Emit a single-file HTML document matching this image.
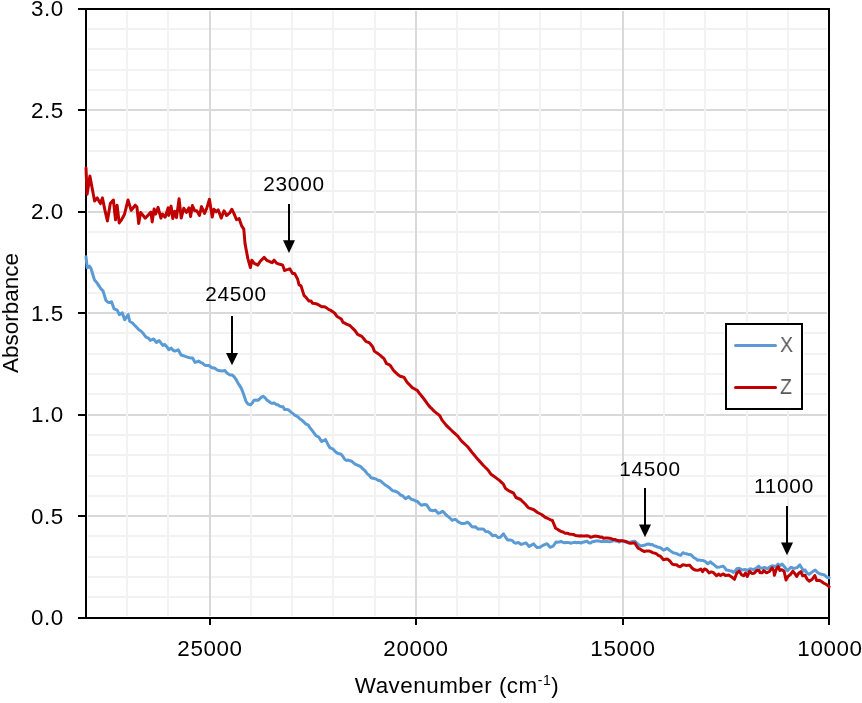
<!DOCTYPE html>
<html><head><meta charset="utf-8"><title>Absorbance spectrum</title>
<style>
html,body{margin:0;padding:0;background:#fff;}
body{width:862px;height:703px;position:relative;overflow:hidden;font-family:"Liberation Sans",sans-serif;color:#000;}
svg{position:absolute;left:0;top:0;}
.t{position:absolute;white-space:nowrap;line-height:26px;height:26px;will-change:transform;}
.ax{font-size:22.4px;letter-spacing:0.6px;margin-right:-0.6px;}
.an{font-size:20.8px;letter-spacing:0.75px;}
.lg{font-size:21.3px;color:#595959;transform:scaleX(0.92);transform-origin:left center;}
.xt{font-size:22.4px;letter-spacing:0.5px;}
.sup{font-size:14px;position:relative;top:-8px;}
.yt{font-size:22.5px;transform:translate(-50%,-50%) rotate(-90deg);transform-origin:center;}
</style></head><body>
<svg width="862" height="703" viewBox="0 0 862 703">
<g shape-rendering="crispEdges">
<rect x="88" y="109" width="739" height="2" fill="#d9d9d9"/>
<rect x="88" y="211" width="739" height="2" fill="#d9d9d9"/>
<rect x="88" y="312" width="739" height="2" fill="#d9d9d9"/>
<rect x="88" y="414" width="739" height="2" fill="#d9d9d9"/>
<rect x="88" y="515" width="739" height="2" fill="#d9d9d9"/>
<rect x="88" y="28" width="739" height="2" fill="#f2f2f2"/>
<rect x="88" y="48" width="739" height="2" fill="#f2f2f2"/>
<rect x="88" y="69" width="739" height="2" fill="#f2f2f2"/>
<rect x="88" y="89" width="739" height="2" fill="#f2f2f2"/>
<rect x="88" y="129" width="739" height="2" fill="#f2f2f2"/>
<rect x="88" y="150" width="739" height="2" fill="#f2f2f2"/>
<rect x="88" y="170" width="739" height="2" fill="#f2f2f2"/>
<rect x="88" y="190" width="739" height="2" fill="#f2f2f2"/>
<rect x="88" y="231" width="739" height="2" fill="#f2f2f2"/>
<rect x="88" y="251" width="739" height="2" fill="#f2f2f2"/>
<rect x="88" y="272" width="739" height="2" fill="#f2f2f2"/>
<rect x="88" y="292" width="739" height="2" fill="#f2f2f2"/>
<rect x="88" y="332" width="739" height="2" fill="#f2f2f2"/>
<rect x="88" y="353" width="739" height="2" fill="#f2f2f2"/>
<rect x="88" y="373" width="739" height="2" fill="#f2f2f2"/>
<rect x="88" y="393" width="739" height="2" fill="#f2f2f2"/>
<rect x="88" y="434" width="739" height="2" fill="#f2f2f2"/>
<rect x="88" y="454" width="739" height="2" fill="#f2f2f2"/>
<rect x="88" y="475" width="739" height="2" fill="#f2f2f2"/>
<rect x="88" y="495" width="739" height="2" fill="#f2f2f2"/>
<rect x="88" y="535" width="739" height="2" fill="#f2f2f2"/>
<rect x="88" y="556" width="739" height="2" fill="#f2f2f2"/>
<rect x="88" y="576" width="739" height="2" fill="#f2f2f2"/>
<rect x="88" y="596" width="739" height="2" fill="#f2f2f2"/>
<rect x="209" y="11" width="2" height="605" fill="#d9d9d9"/>
<rect x="415" y="11" width="2" height="605" fill="#d9d9d9"/>
<rect x="622" y="11" width="2" height="605" fill="#d9d9d9"/>
<rect x="126" y="11" width="2" height="605" fill="#f2f2f2"/>
<rect x="167" y="11" width="2" height="605" fill="#f2f2f2"/>
<rect x="250" y="11" width="2" height="605" fill="#f2f2f2"/>
<rect x="291" y="11" width="2" height="605" fill="#f2f2f2"/>
<rect x="332" y="11" width="2" height="605" fill="#f2f2f2"/>
<rect x="374" y="11" width="2" height="605" fill="#f2f2f2"/>
<rect x="456" y="11" width="2" height="605" fill="#f2f2f2"/>
<rect x="498" y="11" width="2" height="605" fill="#f2f2f2"/>
<rect x="539" y="11" width="2" height="605" fill="#f2f2f2"/>
<rect x="580" y="11" width="2" height="605" fill="#f2f2f2"/>
<rect x="663" y="11" width="2" height="605" fill="#f2f2f2"/>
<rect x="704" y="11" width="2" height="605" fill="#f2f2f2"/>
<rect x="746" y="11" width="2" height="605" fill="#f2f2f2"/>
<rect x="787" y="11" width="2" height="605" fill="#f2f2f2"/>
</g>
<g stroke="#000" stroke-width="2" shape-rendering="crispEdges" fill="none">
<rect x="86" y="9" width="743" height="609"/>
<line x1="78" y1="9" x2="86" y2="9"/>
<line x1="78" y1="110" x2="86" y2="110"/>
<line x1="78" y1="212" x2="86" y2="212"/>
<line x1="78" y1="313" x2="86" y2="313"/>
<line x1="78" y1="415" x2="86" y2="415"/>
<line x1="78" y1="516" x2="86" y2="516"/>
<line x1="78" y1="618" x2="86" y2="618"/>
<line x1="210" y1="618" x2="210" y2="625"/>
<line x1="416" y1="618" x2="416" y2="625"/>
<line x1="623" y1="618" x2="623" y2="625"/>
<line x1="829" y1="618" x2="829" y2="625"/>
</g>
<polyline points="86.0,256.8 87.2,267.8 89.4,266.2 91.1,268.7 92.8,274.5 94.5,280.0 96.7,282.4 98.8,285.6 100.9,288.8 103.0,290.9 105.9,300.3 107.7,302.0 109.4,302.6 111.6,301.7 114.1,308.9 117.2,310.2 119.3,314.7 122.3,312.9 124.7,319.8 126.4,317.1 128.1,314.6 129.8,321.5 132.2,322.8 134.6,325.2 136.8,327.6 138.9,329.8 141.2,331.2 143.5,333.8 146.2,337.4 148.3,338.0 150.3,340.3 152.0,339.7 153.7,339.0 156.5,342.5 158.9,340.6 160.9,342.8 162.8,345.5 164.5,344.4 166.7,346.6 168.8,349.7 171.3,348.1 173.0,350.2 174.7,351.1 176.4,350.6 178.2,349.8 181.1,355.0 183.4,355.7 185.8,356.6 187.5,357.2 189.3,357.6 191.0,358.1 192.6,358.0 195.1,362.4 196.8,361.9 198.5,361.0 200.5,362.3 202.5,363.1 204.5,365.0 206.7,365.6 208.8,365.5 211.3,367.3 213.1,368.0 214.8,368.1 216.9,369.8 219.0,370.7 220.7,370.7 222.4,370.9 225.0,370.6 226.9,373.0 228.9,374.3 230.6,375.1 232.3,375.0 234.2,376.9 236.1,379.5 237.8,382.7 239.5,385.4 241.2,388.1 242.9,392.2 246.0,401.3 248.0,404.1 250.6,404.8 252.3,402.9 254.0,400.3 256.1,400.1 258.3,400.3 259.9,398.6 261.5,397.1 263.1,396.3 265.0,397.7 266.8,400.0 268.5,401.1 270.2,402.5 271.9,403.3 274.5,403.0 276.2,404.5 277.9,404.8 279.6,406.1 281.3,406.7 283.0,406.8 284.7,409.6 286.4,409.6 288.2,409.7 289.9,411.2 291.6,412.6 293.3,413.9 295.0,415.4 296.7,416.0 298.4,417.4 300.0,419.0 302.0,420.3 304.0,422.2 306.0,424.1 308.0,424.9 309.9,427.7 311.9,430.1 313.9,432.8 315.9,435.5 318.9,437.2 321.5,441.5 323.5,440.7 325.5,439.6 327.7,443.9 329.9,447.8 332.9,448.9 335.8,452.1 337.5,453.1 339.1,453.8 340.8,454.0 342.8,456.3 344.8,459.5 346.6,460.4 348.3,460.1 350.1,460.8 351.8,461.3 354.8,464.0 356.8,464.8 358.7,465.6 360.7,466.6 362.4,468.5 364.0,469.8 365.7,471.6 367.4,473.9 369.0,474.9 370.7,477.3 372.7,478.3 374.7,478.6 376.4,479.1 378.0,480.4 379.7,480.6 381.6,481.8 383.6,483.6 385.6,485.3 387.6,486.4 389.3,487.7 390.9,489.1 392.6,490.7 394.6,491.0 396.6,491.8 398.6,493.0 400.6,495.1 402.6,495.7 405.6,498.8 408.5,496.6 411.5,499.5 413.5,499.8 415.5,501.0 417.5,501.5 419.5,503.7 421.5,505.3 423.2,504.7 424.8,504.6 426.5,504.7 429.5,509.2 430.0,510.0 432.8,510.8 435.3,510.1 438.1,513.3 440.3,512.7 442.5,511.2 444.6,513.2 446.7,515.5 448.6,516.9 450.4,518.5 452.3,520.3 454.1,519.5 455.8,519.5 457.9,521.6 459.9,522.7 461.6,523.5 463.4,523.4 465.5,523.2 467.6,522.2 469.7,524.0 471.8,526.7 473.5,527.0 475.2,526.7 478.0,529.0 479.9,528.9 481.7,529.1 483.6,529.3 485.7,531.6 488.5,531.8 490.6,533.5 492.6,535.8 495.4,535.2 498.2,537.6 500.3,537.2 503.5,533.8 505.6,537.2 507.7,540.1 510.7,540.1 512.3,540.6 514.0,542.5 515.6,543.2 518.4,542.5 521.2,544.4 522.8,543.9 524.5,543.3 526.1,543.1 529.1,546.5 531.4,545.1 533.7,543.9 535.5,546.1 537.2,547.5 540.0,547.2 541.8,546.0 543.5,545.2 545.2,544.5 547.0,543.7 550.1,547.3 553.1,546.1 556.0,542.1 557.6,542.2 559.3,542.1 560.9,541.5 562.6,542.2 564.4,542.8 566.1,542.5 567.8,542.6 569.6,542.8 571.3,543.2 573.0,542.6 574.8,542.2 576.8,542.8 578.9,542.3 580.9,543.0 582.9,542.2 585.0,541.7 587.0,541.3 588.8,542.7 590.5,543.1 592.2,541.8 594.0,541.6 595.7,540.9 597.4,540.9 599.2,541.1 600.9,541.5 602.6,541.5 604.4,541.4 606.1,541.4 607.9,541.6 609.6,541.7 611.8,541.3 614.0,540.6 615.7,540.9 617.5,541.2 619.2,542.1 621.8,540.4 623.5,541.2 625.3,541.9 627.0,542.1 629.0,542.3 630.9,541.9 632.8,541.4 634.8,541.2 636.6,542.8 638.3,544.5 640.1,545.7 642.2,545.7 644.4,545.3 646.6,544.3 648.8,543.9 650.5,544.7 652.3,544.6 654.0,545.7 655.7,546.1 657.5,547.1 659.2,547.3 661.4,548.4 663.5,550.2 665.2,549.5 667.0,548.2 669.2,550.0 671.4,551.6 673.1,552.7 674.9,553.1 676.6,553.7 678.6,554.7 680.6,555.4 682.9,552.7 684.6,553.4 686.4,553.8 688.4,554.4 690.4,554.4 692.1,555.7 693.9,557.7 695.6,558.5 697.4,560.2 699.1,559.9 700.9,560.4 703.2,560.6 705.5,561.6 707.8,563.8 710.4,561.7 712.0,563.4 713.6,564.3 715.4,566.0 717.1,567.3 720.0,566.9 722.9,566.1 724.6,567.5 726.4,570.1 728.1,570.3 729.9,570.7 731.6,571.0 733.4,572.4 735.1,571.1 736.8,568.7 739.2,568.2 742.1,570.0 745.0,569.5 747.9,570.5 750.2,568.8 753.1,569.6 756.0,568.4 758.7,566.1 760.0,567.8 762.3,568.2 764.6,567.4 767.0,568.7 769.3,567.4 772.1,565.8 774.8,566.5 776.5,565.8 778.1,564.1 780.0,565.6 782.1,564.0 784.6,567.0 787.4,570.7 789.0,569.2 790.6,567.4 792.5,567.8 794.3,568.4 797.1,567.6 799.9,564.9 801.8,568.1 803.6,571.2 805.0,569.9 807.3,573.4 809.2,574.3 812.0,572.1 813.6,570.8 815.2,570.1 818.0,572.8 819.6,573.7 821.3,574.2 824.0,574.7 826.8,577.2 829.1,577.8" fill="none" stroke="#5b9bd5" stroke-width="3" stroke-linejoin="round" stroke-linecap="round"/>
<polyline points="86.0,168.1 87.1,194.2 89.9,176.0 92.3,189.0 94.6,201.0 97.2,197.9 98.8,200.8 100.4,203.6 102.4,197.9 105.1,210.9 107.4,220.9 110.3,203.6 113.4,200.0 115.5,219.8 117.1,205.2 119.2,222.9 121.8,219.3 124.4,214.6 126.2,207.3 128.0,200.0 131.2,210.4 133.2,207.8 135.3,205.2 136.9,206.8 138.7,223.5 140.6,212.5 142.9,215.3 145.3,218.2 147.2,216.1 149.1,214.1 151.0,212.0 152.2,221.9 154.1,208.9 155.7,214.1 158.1,207.3 160.9,218.2 162.5,214.1 165.1,217.2 168.2,207.8 168.7,215.5 171.1,206.1 172.8,218.6 174.6,211.3 176.5,217.6 179.1,198.8 181.2,218.1 183.8,208.2 186.4,212.4 189.0,207.7 190.6,216.5 192.4,205.6 194.8,210.8 196.8,210.8 199.5,215.5 201.5,206.6 204.5,213.4 206.8,208.2 209.4,199.3 212.2,217.1 213.9,209.2 216.2,211.8 218.2,209.8 221.2,218.1 224.0,210.8 226.6,215.5 229.7,212.9 231.8,209.2 233.9,213.4 236.5,219.7 239.1,218.6 241.7,225.9 243.8,229.1 243.8,229.2 245.0,243.4 247.8,258.4 250.4,267.6 251.8,260.2 254.2,263.4 256.0,264.2 257.8,265.1 260.6,260.8 262.4,259.1 264.2,257.4 267.0,260.5 268.8,261.2 270.5,262.0 272.3,262.7 274.1,260.2 277.0,263.4 278.9,264.0 280.8,264.5 282.7,265.1 284.5,270.5 286.3,269.9 288.0,269.4 289.8,268.8 292.6,273.6 294.7,273.6 297.6,279.0 299.0,284.7 301.1,286.1 304.0,295.4 306.1,297.5 309.0,301.1 311.1,301.1 312.5,303.2 314.6,303.5 316.8,303.9 318.5,304.8 320.1,305.8 321.8,306.7 324.6,306.7 326.8,308.1 328.9,309.6 330.2,310.1 332.4,311.6 334.5,313.0 337.1,316.5 339.2,317.8 341.3,319.0 343.0,322.4 344.8,323.2 346.5,324.1 348.2,324.8 349.9,325.5 351.6,327.2 353.3,328.9 355.0,330.6 357.6,334.4 359.7,335.4 361.8,336.4 364.0,339.0 366.1,341.6 367.8,342.2 369.5,342.9 371.2,345.0 372.9,347.2 374.3,351.1 376.1,352.4 377.9,353.6 379.7,354.9 381.9,356.8 384.0,358.6 386.6,363.7 388.3,364.4 390.0,365.1 391.7,367.6 393.4,370.2 395.5,372.4 397.7,374.5 400.2,376.2 402.1,376.8 404.0,377.4 407.1,382.2 408.8,384.0 410.5,385.8 412.2,387.6 413.9,388.5 415.6,389.5 417.3,390.4 419.9,394.1 420.0,394.0 422.0,396.5 424.0,399.0 425.7,401.3 427.3,403.6 429.0,405.9 430.6,407.6 432.3,409.2 433.9,410.9 435.9,412.6 437.9,414.2 439.9,415.9 441.9,419.9 443.9,422.4 445.9,424.9 447.9,426.9 449.9,428.8 451.9,430.8 453.9,432.6 455.8,434.4 457.8,436.2 459.8,438.8 461.8,441.4 463.8,443.2 465.8,445.0 467.8,446.8 469.8,449.5 471.8,452.1 473.8,454.5 475.8,456.9 477.8,459.3 479.8,461.4 481.7,463.6 483.7,465.7 485.7,467.7 487.7,469.7 489.5,472.1 491.3,474.6 493.5,476.1 495.7,477.6 497.7,479.1 499.7,480.6 501.5,482.3 503.3,484.0 505.6,488.6 507.6,489.9 509.6,491.2 511.6,492.2 513.6,493.2 516.0,497.5 518.3,498.5 520.6,499.5 522.3,501.2 523.9,502.8 525.6,504.5 528.5,507.9 530.2,508.4 531.8,509.0 533.5,509.5 535.5,511.0 537.5,512.5 539.5,513.5 541.5,514.5 543.5,516.0 545.5,517.5 547.2,518.2 549.0,519.0 550.7,519.8 552.4,520.5 553.1,522.2 555.7,528.3 557.4,529.3 559.2,530.4 560.9,531.3 563.0,532.0 565.2,533.3 567.2,533.2 569.3,534.0 571.3,534.3 573.3,534.5 575.4,535.4 577.4,535.7 579.1,536.0 580.9,535.7 582.6,536.1 584.8,535.9 587.0,535.7 588.8,536.1 590.5,537.2 592.6,536.7 594.8,536.1 596.5,536.3 598.3,536.5 600.0,537.2 601.8,536.9 603.5,538.2 605.3,538.1 607.3,538.0 609.3,538.2 611.3,538.6 613.3,539.6 615.4,539.6 617.4,540.5 619.4,540.8 621.5,540.7 623.5,541.0 625.2,541.3 627.0,542.0 628.7,543.0 630.7,543.3 632.8,543.0 634.8,543.0 636.5,545.8 638.3,548.3 640.3,549.1 642.4,550.7 644.4,551.5 646.6,550.9 648.8,550.9 650.8,551.6 652.8,552.7 654.8,553.1 656.6,553.8 658.3,555.5 660.1,555.9 661.8,557.8 663.5,559.7 665.7,559.1 667.9,559.3 670.0,561.2 672.2,564.1 674.4,564.7 676.6,564.8 678.4,566.2 680.1,566.8 682.9,564.7 684.6,565.1 686.4,565.4 688.1,565.3 689.9,565.3 691.6,567.6 693.3,569.2 695.3,570.0 697.4,570.2 699.1,569.9 700.9,569.0 702.6,571.7 704.4,569.0 706.7,569.9 709.0,572.9 711.3,571.9 713.6,572.7 716.5,575.8 718.9,574.0 720.6,575.6 722.9,573.9 725.8,575.6 728.7,575.1 731.6,576.9 734.5,579.3 736.8,573.0 739.2,571.0 741.5,574.7 743.8,575.8 745.5,573.1 747.3,576.5 749.6,571.3 751.9,573.4 754.2,573.2 756.6,570.5 758.9,570.2 760.0,572.7 762.3,572.8 763.7,570.5 766.5,572.8 769.3,571.5 772.1,567.8 773.9,571.1 774.4,575.2 776.2,569.5 778.1,566.5 780.0,570.5 781.8,569.7 784.1,571.3 786.0,580.0 787.8,576.7 790.6,574.3 792.9,571.2 794.8,573.7 796.7,576.4 798.5,573.5 800.8,571.7 802.7,575.8 805.0,575.3 807.3,579.4 809.2,581.1 812.0,579.5 814.8,575.5 816.6,580.6 819.4,580.3 822.2,582.1 824.0,583.2 825.9,584.3 827.5,585.2 829.1,586.8" fill="none" stroke="#c00000" stroke-width="3" stroke-linejoin="round" stroke-linecap="round"/>
<line x1="289" y1="204" x2="289" y2="241.2" stroke="#000" stroke-width="2"/>
<polygon points="283,240.2 295,240.2 289,253" fill="#000"/>
<line x1="232" y1="316" x2="232" y2="353.9" stroke="#000" stroke-width="2"/>
<polygon points="226,352.9 238,352.9 232,365.3" fill="#000"/>
<line x1="645" y1="488" x2="645" y2="525.6" stroke="#000" stroke-width="2"/>
<polygon points="639,524.6 651,524.6 645,537.3" fill="#000"/>
<line x1="787" y1="506" x2="787" y2="543.5" stroke="#000" stroke-width="2"/>
<polygon points="781,542.5 793,542.5 787,555.3" fill="#000"/>
<rect x="724" y="322" width="80" height="89" fill="#fff" shape-rendering="crispEdges"/>
<rect x="726" y="324" width="76" height="85" fill="#fff" stroke="#000" stroke-width="2" shape-rendering="crispEdges"/>
<line x1="735.5" y1="345.5" x2="775.5" y2="345.5" stroke="#5b9bd5" stroke-width="3" stroke-linecap="round"/>
<line x1="735.5" y1="387.5" x2="775.5" y2="387.5" stroke="#c00000" stroke-width="3" stroke-linecap="round"/>
</svg>
<div class="t ax" style="right:798.5px;top:-4.0px;">3.0</div>
<div class="t ax" style="right:798.5px;top:97.5px;">2.5</div>
<div class="t ax" style="right:798.5px;top:199.0px;">2.0</div>
<div class="t ax" style="right:798.5px;top:300.5px;">1.5</div>
<div class="t ax" style="right:798.5px;top:402.0px;">1.0</div>
<div class="t ax" style="right:798.5px;top:503.5px;">0.5</div>
<div class="t ax" style="right:798.5px;top:605.0px;">0.0</div>
<div class="t ax" style="left:159.8px;width:100px;text-align:center;top:636px;">25000</div>
<div class="t ax" style="left:366.2px;width:100px;text-align:center;top:636px;">20000</div>
<div class="t ax" style="left:572.6px;width:100px;text-align:center;top:636px;">15000</div>
<div class="t ax" style="left:780.3px;width:100px;text-align:center;top:636px;">10000</div>
<div class="t an" style="left:244.1px;width:100px;text-align:center;top:171.1px;">23000</div>
<div class="t an" style="left:186.0px;width:100px;text-align:center;top:281.2px;">24500</div>
<div class="t an" style="left:600.1px;width:100px;text-align:center;top:456.2px;">14500</div>
<div class="t an" style="left:734.0px;width:100px;text-align:center;top:473.0px;">11000</div>
<div class="t lg" style="left:780px;top:331.5px;">X</div>
<div class="t lg" style="left:780px;top:373.5px;">Z</div>
<div class="t xt" style="left:256.5px;width:400px;text-align:center;top:673px;">Wavenumber (cm<span class="sup">-1</span>)</div>
<div class="t yt" style="left:10.5px;top:313px;">Absorbance</div>
</body></html>
